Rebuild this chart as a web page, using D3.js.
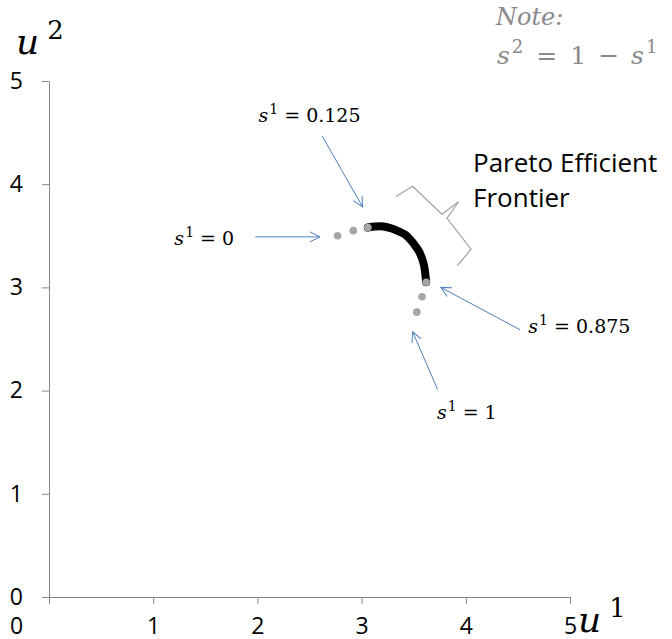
<!DOCTYPE html>
<html>
<head>
<meta charset="utf-8">
<script src="https://cdn.jsdelivr.net/npm/d3@7"></script>
<style>
  body { margin: 0; background: #fff; }
  svg { display: block; }
  .math { font-family: "DejaVu Serif", serif; }
</style>
</head>
<body>
<div id="app"></div>
<script>
const WIDTH = 672;
const HEIGHT = 639;

// axis ticks
const X_TICKS = [0, 1, 2, 3, 4, 5];
const Y_TICKS = [0, 1, 2, 3, 4, 5];

// frontier (black curve) in (u1, u2)
const FRONTIER_U1 = [3.06, 3.13, 3.21, 3.29, 3.36, 3.42, 3.47, 3.51, 3.55, 3.58, 3.60, 3.61, 3.62];
const FRONTIER_U2 = [3.58, 3.59, 3.59, 3.57, 3.54, 3.51, 3.46, 3.41, 3.35, 3.28, 3.21, 3.14, 3.05];

// sampled allocations (grey dots)
const DOT_U1 = [2.77, 2.92, 3.06, 3.62, 3.58, 3.53];
const DOT_U2 = [3.50, 3.55, 3.58, 3.05, 2.91, 2.76];

// annotation labels: value of s1, label centre, arrow start and end (data units)
const LABEL_S = ["0.125", "0", "0.875", "1"];
const LABEL_POS = [[2.50, 4.60], [1.49, 3.41], [5.09, 2.56], [4.01, 1.72]];
const ARROW_FROM = [[2.62, 4.47], [1.98, 3.49], [4.52, 2.59], [3.73, 2.01]];
const ARROW_TO = [[3.01, 3.78], [2.60, 3.49], [3.76, 3.00], [3.49, 2.57]];

// curly brace next to the frontier
const BRACE_A = [[3.33, 3.88], [3.49, 3.98], [3.77, 3.71], [3.93, 3.83]];
const BRACE_B = [[3.93, 3.83], [3.82, 3.67], [4.05, 3.37], [3.92, 3.21]];

const x = d3.scaleLinear().domain([0, 5]).range([49, 570]);
const y = d3.scaleLinear().domain([0, 5]).range([597, 81]);

const svg = d3.select("#app").append("svg")
  .attr("width", WIDTH).attr("height", HEIGHT);

const AXIS_COLOR = "#878787";
const TICK_FONT = "Open Sans, Noto Sans, sans-serif";

// x axis
const xAxis = svg.append("g")
  .attr("transform", `translate(0, ${y(0)})`)
  .call(d3.axisBottom(x).tickValues(X_TICKS).tickSize(7).tickSizeOuter(0).tickFormat(d3.format("d")));
xAxis.attr("font-size", 23).attr("font-family", TICK_FONT);
xAxis.select(".domain").attr("stroke", AXIS_COLOR).attr("d", `M${x(0) - 6},0.5H${x(5)}`);
xAxis.selectAll(".tick line").attr("stroke", AXIS_COLOR);
xAxis.selectAll(".tick text").attr("y", 37).attr("dy", null).attr("fill", "#000");
// first label sits left of the origin
xAxis.selectAll(".tick text").filter((d) => d === 0).attr("x", -33);

// y axis
const yAxis = svg.append("g")
  .attr("transform", `translate(${x(0)}, 0)`)
  .call(d3.axisLeft(y).tickValues(Y_TICKS).tickSize(7).tickSizeOuter(0).tickFormat(d3.format("d")));
yAxis.attr("font-size", 23).attr("font-family", TICK_FONT);
yAxis.select(".domain").attr("stroke", AXIS_COLOR);
yAxis.selectAll(".tick line").attr("stroke", AXIS_COLOR);
yAxis.selectAll(".tick text").attr("x", -26).attr("fill", "#000");

// axis titles
function mathLabel(g, base, sup, px, py, size) {
  const t = g.append("text").attr("class", "math").attr("x", px).attr("y", py)
    .attr("font-size", size);
  t.append("tspan").attr("font-style", "italic").text(base);
  t.append("tspan").attr("dx", 8).attr("dy", -size * 0.42).attr("font-size", size * 0.72).text(sup);
  return t;
}
mathLabel(svg, "u", "2", 16, 54, 36);
mathLabel(svg, "u", "1", 578, 632, 36);

// frontier
const line = d3.line()
  .x((d, i) => x(FRONTIER_U1[i]))
  .y((d, i) => y(FRONTIER_U2[i]))
  .curve(d3.curveCatmullRom);

svg.append("g").selectAll("circle")
  .data(DOT_U1)
  .join("circle")
  .attr("cx", (d) => x(d))
  .attr("cy", (d, i) => y(DOT_U2[i]))
  .attr("r", 3.8)
  .attr("fill", "#a6a6a6");

svg.append("path")
  .datum(FRONTIER_U1)
  .attr("d", line)
  .attr("fill", "none")
  .attr("stroke", "#000")
  .attr("stroke-width", 8)
  .attr("stroke-linecap", "round");

// redraw the two ends as grey dots on top of the curve
svg.append("g").selectAll("circle")
  .data([2, 3])
  .join("circle")
  .attr("cx", (d) => x(DOT_U1[d]))
  .attr("cy", (d) => y(DOT_U2[d]))
  .attr("r", 3.8)
  .attr("fill", "#a6a6a6");

// arrows
const ARROW_COLOR = "#4f81bd";
svg.append("defs").append("marker")
  .attr("id", "head")
  .attr("viewBox", "0 0 12 12")
  .attr("refX", 11).attr("refY", 6)
  .attr("markerWidth", 12).attr("markerHeight", 12)
  .attr("markerUnits", "userSpaceOnUse")
  .attr("orient", "auto")
  .append("path")
  .attr("d", "M1,1 L11,6 L1,11")
  .attr("fill", "none")
  .attr("stroke", ARROW_COLOR)
  .attr("stroke-width", 1);

svg.append("g").selectAll("line")
  .data(ARROW_FROM)
  .join("line")
  .attr("x1", (d) => x(d[0]))
  .attr("y1", (d) => y(d[1]))
  .attr("x2", (d, i) => x(ARROW_TO[i][0]))
  .attr("y2", (d, i) => y(ARROW_TO[i][1]))
  .attr("stroke", ARROW_COLOR)
  .attr("stroke-width", 1)
  .attr("marker-end", "url(#head)");

// s1 labels
LABEL_S.forEach((s, i) => {
  const t = svg.append("text").attr("class", "math")
    .attr("x", x(LABEL_POS[i][0])).attr("y", y(LABEL_POS[i][1]))
    .attr("text-anchor", "middle").attr("font-size", 19);
  t.append("tspan").attr("font-style", "italic").text("s");
  t.append("tspan").attr("dx", 1).attr("dy", -8).attr("font-size", 14).text("1");
  t.append("tspan").attr("dy", 8).attr("xml:space", "preserve").text(" = " + s);
});

// brace
const braceLine = d3.line().x((d) => x(d[0])).y((d) => y(d[1]));
[BRACE_A, BRACE_B].forEach((pts) => {
  svg.append("path")
    .attr("d", braceLine(pts))
    .attr("fill", "none")
    .attr("stroke", "#a0a0a0")
    .attr("stroke-width", 1.2);
});

svg.append("text")
  .attr("x", 473).attr("y", 172)
  .attr("font-family", "Open Sans, sans-serif").attr("font-size", 26)
  .text("Pareto Efficient");
svg.append("text")
  .attr("x", 473).attr("y", 207)
  .attr("font-family", "Open Sans, sans-serif").attr("font-size", 26)
  .text("Frontier");

// note
svg.append("text").attr("class", "math")
  .attr("x", 496).attr("y", 25)
  .attr("font-size", 24).attr("font-style", "italic").attr("fill", "#8a8a8a")
  .text("Note:");
const note = svg.append("text").attr("class", "math")
  .attr("x", 497).attr("y", 64).attr("font-size", 25).attr("fill", "#8a8a8a");
note.append("tspan").attr("font-style", "italic").text("s");
note.append("tspan").attr("dx", 2).attr("dy", -11).attr("font-size", 18).text("2");
note.append("tspan").attr("dx", 13).attr("dy", 11).text("=");
note.append("tspan").attr("dx", 13).text("1");
note.append("tspan").attr("dx", 12).text("\u2212");
note.append("tspan").attr("dx", 12).attr("font-style", "italic").text("s");
note.append("tspan").attr("dx", 2).attr("dy", -11).attr("font-size", 18).text("1");
</script>
</body>
</html>
